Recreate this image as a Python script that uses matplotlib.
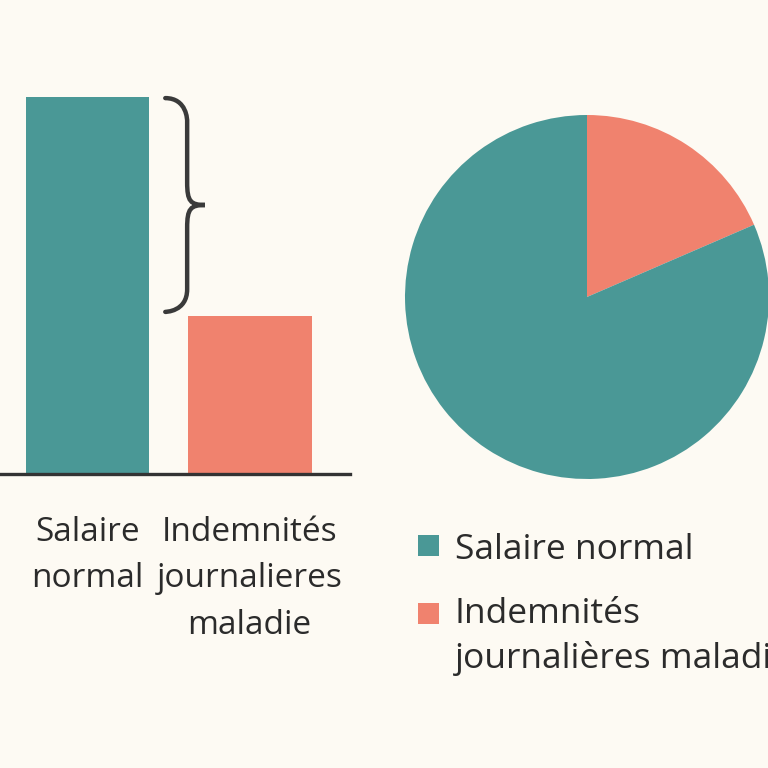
import matplotlib.pyplot as plt
from matplotlib.path import Path
from matplotlib.patches import PathPatch, Rectangle

plt.rcParams['font.family'] = ['Open Sans', 'DejaVu Sans']

# donnees
categories = ["Salaire normal", "Indemnités journalières maladie"]
bar_labels = ["Salaire\nnormal", "Indemnités\njournalieres\nmaladie"]
bar_values = [100, 42]
pie_values = [81.5, 18.5]
colors = ["#4A9896", "#F0826E"]
bg = "#FDFAF3"
ink = "#2b2b2b"

W = H = 768
fig = plt.figure(figsize=(7.68, 7.68), dpi=100, facecolor=bg)


def box(x0, y0, x1, y1):
    # pixel box (top-left origin) -> figure fraction
    return [x0 / W, 1 - y1 / H, (x1 - x0) / W, (y1 - y0) / H]


# Graphique a barres
ax1 = fig.add_axes(box(0, 77, 350, 474))
ax1.set_facecolor(bg)
x = [0, 1]
ax1.bar(x, bar_values, width=0.765, color=colors)
ax1.set_xlim(-0.54, 1.62)
ax1.set_ylim(0, 105.3)
for s in ["top", "right", "left"]:
    ax1.spines[s].set_visible(False)
ax1.spines["bottom"].set_color("#333333")
ax1.spines["bottom"].set_linewidth(2.4)
ax1.set_yticks([])
ax1.set_xticks(x)
ax1.set_xticklabels(bar_labels, fontsize=24, color=ink, linespacing=1.55)
ax1.tick_params(axis="x", length=0, pad=30)

# accolade entre les deux barres
y_top, y_bot = bar_values[0] - 0.3, bar_values[1] + 1
y_mid = (y_top + y_bot) / 2
x0, xs, xt = 0.48, 0.615, 0.725
r = 6
verts = [
    (x0, y_top), (xs, y_top), (xs, y_top - r), (xs, y_top - r),
    (xs, y_mid + r),
    (xs, y_mid + 1), (xs + 0.02, y_mid), (xt, y_mid),
    (xs + 0.02, y_mid), (xs, y_mid - 1), (xs, y_mid - r),
    (xs, y_bot + r),
    (xs, y_bot), (x0, y_bot), (x0, y_bot),
]
codes = [Path.MOVETO, Path.CURVE4, Path.CURVE4, Path.CURVE4,
         Path.LINETO,
         Path.CURVE4, Path.CURVE4, Path.CURVE4,
         Path.CURVE4, Path.CURVE4, Path.CURVE4,
         Path.LINETO,
         Path.CURVE4, Path.CURVE4, Path.CURVE4]
ax1.add_patch(PathPatch(Path(verts, codes), fill=False, lw=3.2,
                        edgecolor="#3a3a3a", capstyle="round", clip_on=False))

# Camembert
ax2 = fig.add_axes(box(405, 115, 769, 479))
ax2.pie(pie_values[::-1], colors=colors[::-1], startangle=90,
        counterclock=False, radius=1)
ax2.set_xlim(-1, 1)
ax2.set_ylim(-1, 1)
ax2.set_aspect("equal")
ax2.axis("off")

# Legende
leg_y = [545, 613]
for c, yy in zip(colors, leg_y):
    fig.patches.append(Rectangle((418 / W, 1 - (yy + 11) / H), 21 / W, 21 / H,
                                 transform=fig.transFigure, facecolor=c,
                                 edgecolor="none"))
leg_lines = [(categories[0], 559), ("Indemnités", 623),
             ("journalières maladie", 668)]
for txt, base in leg_lines:
    fig.text(455 / W, 1 - base / H, txt, fontsize=25.5, color=ink,
             va="baseline", ha="left")

fig.savefig("out.png", dpi=100, facecolor=bg)
